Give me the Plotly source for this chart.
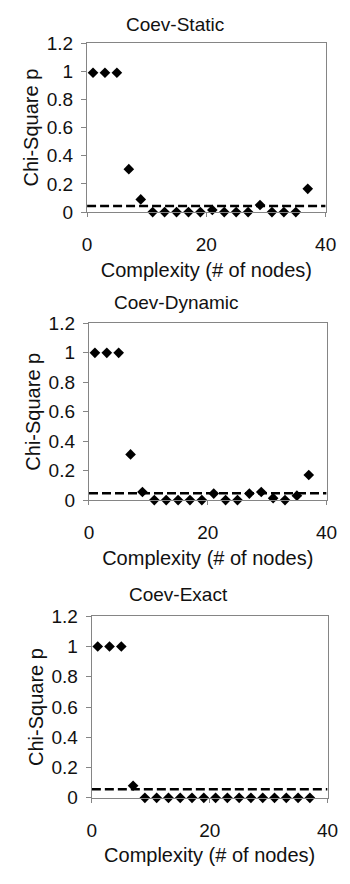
import plotly.graph_objects as go

# Complexity (number of nodes) of each evaluated network
nodes = [1, 3, 5, 7, 9, 11, 13, 15, 17, 19, 21, 23, 25, 27, 29, 31, 33, 35, 37]

# Chi-square p-values per method
static_p = [0.99, 0.99, 0.99, 0.305, 0.09, 0, 0, 0, 0, 0, 0.015, 0, 0, 0, 0.05, 0, 0, 0, 0.165]
dynamic_p = [1.0, 1.0, 1.0, 0.31, 0.055, 0, 0, 0, 0, 0, 0.044, 0, 0, 0.044, 0.055, 0.013, 0, 0.03, 0.17]
exact_p = [1.0, 1.0, 1.0, 0.08, 0, 0, 0, 0, 0, 0, 0, 0, 0, 0, 0, 0, 0, 0, 0]

# Significance threshold drawn as a dashed line across each panel
threshold_x = [0, 40]
threshold_p = [0.043, 0.046, 0.057]

panel_titles = ["Coev-Static", "Coev-Dynamic", "Coev-Exact"]
series = [static_p, dynamic_p, exact_p]

W, H = 350, 884
# pixel boxes of the three plot areas: (left, right, top, bottom)
boxes = [(86, 336, 34, 207), (88, 337, 321, 502), (91, 338, 621, 807)]
title_y = [15, 300, 599]

FONT = "Liberation Sans, Arial, sans-serif"
GRAY = "#858585"

fig = go.Figure()
layout = dict(
    width=W, height=H,
    margin=dict(l=0, r=0, t=0, b=0),
    paper_bgcolor="white", plot_bgcolor="white",
    showlegend=False,
    font=dict(family=FONT, color="#111111", size=19),
    annotations=[],
)

for i, (vals, thr, title) in enumerate(zip(series, threshold_p, panel_titles)):
    n = "" if i == 0 else str(i + 1)
    xa, ya = "x" + n, "y" + n
    fig.add_trace(go.Scatter(
        x=threshold_x, y=[thr, thr], mode="lines",
        line=dict(color="black", width=2.6, dash="9px,4px"),
        xaxis=xa, yaxis=ya, cliponaxis=False, hoverinfo="skip",
    ))
    fig.add_trace(go.Scatter(
        x=nodes, y=vals, mode="markers",
        marker=dict(symbol="diamond", size=8.2, color="black"),
        xaxis=xa, yaxis=ya, cliponaxis=False,
    ))
    l, r, t, b = boxes[i]
    layout["xaxis" + n] = dict(
        domain=[l / W, r / W], anchor=ya, range=[0, 40], dtick=20,
        showgrid=False, zeroline=False, showline=True, mirror=True,
        linecolor=GRAY, linewidth=1.3, ticks="outside", ticklen=4,
        tickcolor=GRAY, ticklabelstandoff=11,
        tickfont=dict(size=19),
        title=dict(text="Complexity (# of nodes)", font=dict(size=20), standoff=8),
    )
    layout["yaxis" + n] = dict(
        domain=[1 - b / H, 1 - t / H], anchor=xa, range=[0, 1.2], dtick=0.2,
        showgrid=False, zeroline=False, showline=True, mirror=True,
        linecolor=GRAY, linewidth=1.3, ticks="outside", ticklen=5,
        tickcolor=GRAY, ticklabelstandoff=4,
        tickfont=dict(size=19),
        title=dict(text="Chi-Square p", font=dict(size=20), standoff=2),
    )
    layout["annotations"].append(dict(
        text=title, xref="paper", yref="paper",
        x=((l + r) / 2 - 33) / W, y=1 - title_y[i] / H,
        xanchor="center", yanchor="middle", showarrow=False,
        font=dict(size=19),
    ))

fig.update_layout(**layout)
fig.write_html("out.html")
